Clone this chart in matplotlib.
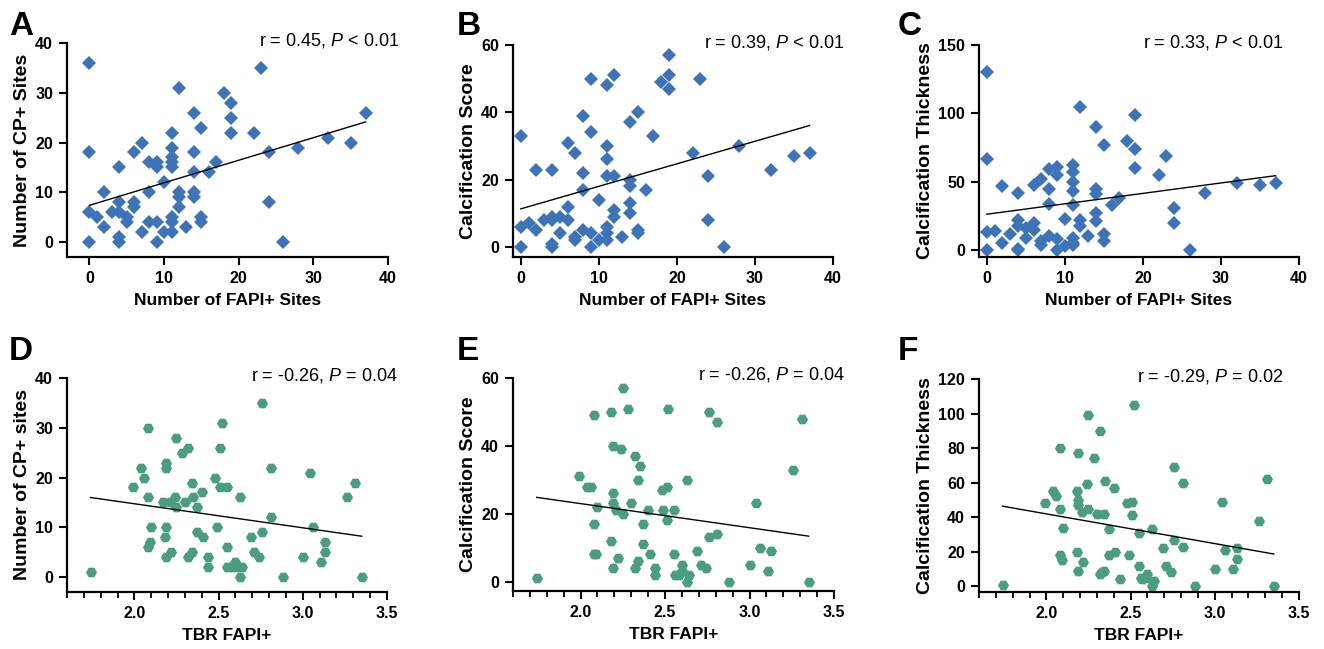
import numpy as np
import matplotlib
matplotlib.use('Agg')
import matplotlib.pyplot as plt
from matplotlib.ticker import MultipleLocator

plt.rcParams['font.family'] = ['Liberation Sans', 'DejaVu Sans']
plt.rcParams['mathtext.fontset'] = 'custom'
plt.rcParams['mathtext.rm'] = 'Liberation Sans'
plt.rcParams['mathtext.it'] = 'Liberation Sans:italic'

# ---- data ----
# top row: Number of FAPI+ sites vs CP+ sites / calcification score / thickness
fapi_a = [0, 23, 12, 18, 19, 14, 37, 19, 15, 11, 19, 22, 0, 7, 6, 11, 32, 35, 28, 24,
          14, 11, 11, 11, 8, 9, 9, 4, 17, 16, 14, 10, 2, 8, 12, 12, 14, 14, 4, 6,
          6, 12, 24, 0, 1, 3, 4, 5, 5, 2, 8, 9, 11, 11, 15, 15, 13, 7, 10, 11,
          4, 4, 0, 9, 26]
cp_a = [36, 35, 31, 30, 28, 26, 26, 25, 23, 22, 22, 22, 18, 20, 18, 19, 21, 20, 19, 18,
        18, 17, 16, 15, 16, 16, 15, 15, 16, 14, 14, 12, 10, 10, 10, 9, 10, 9, 8, 8,
        7, 7, 8, 6, 5, 6, 6, 5, 4, 3, 4, 4, 5, 4, 5, 4, 3, 2, 2, 2,
        1, 0, 0, 0, 0]

fapi_b = [19, 9, 12, 11, 18, 19, 19, 23, 8, 15, 14, 0, 9, 17, 6, 11, 7, 22, 28, 35,
          37, 11, 2, 4, 8, 11, 12, 32, 24, 14, 14, 8, 16, 10, 14, 6, 12, 14, 12, 0,
          1, 2, 3, 4, 4, 5, 6, 24, 5, 7, 7, 8, 9, 10, 11, 11, 11, 13, 15, 15,
          0, 4, 4, 9, 26]
score_b = [57, 50, 51, 48, 49, 51, 47, 50, 39, 40, 37, 33, 34, 33, 31, 30, 28, 28, 30, 27,
           28, 26, 23, 23, 22, 21, 21, 23, 21, 20, 18, 17, 17, 14, 13, 12, 11, 10, 9, 6,
           7, 5, 8, 9, 8, 9, 8, 8, 4, 3, 2, 5, 4, 2, 6, 4, 2, 3, 5, 4,
           0, 1, 0, 0, 0]

fapi_c = [0, 0, 0, 0, 1, 2, 2, 3, 4, 4, 4, 4, 4, 5, 5, 6, 6, 6, 7, 7,
          7, 8, 8, 8, 8, 9, 9, 9, 9, 10, 10, 11, 11, 11, 11, 11, 11, 11, 11, 12,
          12, 12, 13, 14, 14, 14, 14, 14, 15, 15, 15, 16, 17, 18, 19, 19, 19, 22, 23, 24,
          24, 26, 28, 32, 35, 37]
thick_c = [130, 67, 13, 0, 14, 47, 5, 12, 42, 22, 18, 1, 0, 16, 9, 48, 20, 15, 52, 7,
           4, 59, 45, 34, 10, 61, 55, 8, 0, 23, 3, 62, 57, 50, 43, 33, 9, 5, 4, 105,
           22, 18, 10, 90, 45, 41, 27, 21, 77, 12, 7, 33, 38, 80, 99, 74, 60, 55, 69, 31,
           20, 0, 42, 49, 48, 49]

# bottom row: TBR FAPI+ vs the same three measures
tbr_d = [1.74, 2.08, 2.76, 2.52, 2.25, 2.32, 2.28, 2.51, 2.19, 2.19, 2.04, 2.06, 2.81, 3.04, 1.99, 2.34,
         2.48, 2.51, 2.55, 2.40, 2.08, 2.24, 2.35, 2.63, 3.26, 3.31, 2.17, 2.21, 2.30, 2.25, 2.37, 2.81,
         2.10, 2.19, 2.49, 3.06, 2.37, 2.76, 2.18, 2.41, 2.69, 2.09, 3.13, 2.08, 2.55, 2.22, 2.34, 2.71,
         3.13, 2.19, 2.32, 2.44, 2.74, 3.00, 3.11, 2.44, 2.55, 2.58, 2.60, 2.61, 2.64, 2.63, 2.88, 3.35]
cp_d = [1, 30, 35, 31, 28, 26, 25, 26, 23, 22, 22, 20, 22, 21, 18, 19,
        20, 18, 18, 17, 16, 16, 16, 16, 16, 19, 15, 15, 15, 14, 14, 12,
        10, 10, 10, 10, 9, 9, 8, 8, 8, 7, 7, 6, 6, 5, 5, 5,
        5, 4, 4, 4, 4, 4, 3, 2, 2, 2, 3, 2, 2, 0, 0, 0]

tbr_e = [1.74, 2.25, 2.08, 2.18, 2.28, 2.52, 2.76, 2.81, 3.31, 2.19, 2.24, 2.32, 2.35, 2.34, 2.63, 3.26,
         1.99, 2.04, 2.06, 2.48, 2.51, 2.19, 2.19, 2.30, 3.04, 2.10, 2.21, 2.25, 2.40, 2.49, 2.55, 2.51,
         2.37, 2.08, 2.18, 2.37, 2.76, 2.81, 2.08, 2.09, 2.41, 2.55, 2.69, 3.06, 3.13, 2.22, 2.34, 2.19,
         2.32, 2.44, 2.44, 2.60, 2.71, 2.74, 3.00, 3.11, 2.56, 2.58, 2.60, 2.64, 2.63, 2.88, 3.35]
score_e = [1, 57, 49, 50, 51, 51, 50, 47, 48, 40, 39, 37, 34, 30, 30, 33,
           31, 28, 28, 27, 28, 26, 23, 23, 23, 22, 21, 20, 21, 21, 21, 18,
           17, 17, 12, 11, 13, 14, 8, 8, 8, 8, 9, 10, 9, 7, 6, 4,
           4, 4, 2, 5, 5, 4, 5, 3, 2, 2, 3, 2, 0, 0, 0]

tbr_f = [1.74, 2.52, 2.25, 2.32, 2.08, 2.19, 2.28, 2.76, 2.81, 3.31, 2.35, 2.40, 2.24, 2.04, 2.06, 2.18,
         2.19, 2.19, 1.99, 2.08, 2.25, 2.21, 2.30, 2.34, 2.48, 2.51, 2.51, 3.04, 3.26, 2.10, 2.37, 2.63,
         2.55, 2.76, 2.81, 2.69, 3.13, 3.06, 2.18, 2.41, 2.37, 2.49, 2.08, 2.09, 3.13, 2.22, 2.55, 2.71,
         2.19, 2.74, 3.00, 3.11, 2.34, 2.33, 2.32, 2.44, 2.56, 2.57, 2.60, 2.59, 2.64, 2.63, 2.88, 3.35]
thick_f = [1, 105, 99, 90, 80, 77, 74, 69, 60, 62, 61, 57, 59, 55, 52, 55,
           50, 47, 48, 45, 45, 43, 42, 42, 48, 49, 41, 49, 38, 34, 33, 33,
           31, 27, 23, 22, 22, 21, 20, 20, 18, 18, 18, 15, 16, 14, 12, 12,
           9, 8, 10, 10, 9, 8, 7, 4, 5, 4, 7, 5, 3, 0, 0, 0]

stats = ['r = 0.45, $\\it{P}$ < 0.01', 'r = 0.39, $\\it{P}$ < 0.01', 'r = 0.33, $\\it{P}$ < 0.01',
         'r = -0.26, $\\it{P}$ = 0.04', 'r = -0.26, $\\it{P}$ = 0.04', 'r = -0.29, $\\it{P}$ = 0.02']
letters = ['A', 'B', 'C', 'D', 'E', 'F']
ylabels = ['Number of CP+ Sites', 'Calcification Score', 'Calcification Thickness',
           'Number of CP+ sites', 'Calcification Score', 'Calcification Thickness']

blue = '#3F73B8'
green = '#4B9E7D'

W, H = 1324, 649
fig = plt.figure(figsize=(W / 100, H / 100), dpi=100)


def px_axes(l, t, r, b):
    return fig.add_axes([l / W, 1 - b / H, (r - l) / W, (b - t) / H])


panels = [
    # x, y, box (px), xlim, ylim, yticks step, colour, marker
    (fapi_a, cp_a, (67, 43, 388, 257), (-3, 40), (-3, 40), 10, blue, 'D'),
    (fapi_b, score_b, (513, 45, 833, 257), (-1, 40), (-3, 60), 20, blue, 'D'),
    (fapi_c, thick_c, (979, 45, 1299, 257), (-1, 40), (-5, 150), 50, blue, 'D'),
    (tbr_d, cp_d, (67, 378, 387, 592), (1.6, 3.5), (-3, 40), 10, green, 'H'),
    (tbr_e, score_e, (513, 378, 834, 591), (1.6, 3.5), (-2.8, 60), 20, green, 'H'),
    (tbr_f, thick_f, (979, 379, 1299, 592), (1.6, 3.5), (-3.3, 120), 20, green, 'H'),
]

for i, (x, y, box, xl, yl, ystep, col, mk) in enumerate(panels):
    ax = px_axes(*box)
    x = np.array(x, dtype=float)
    y = np.array(y, dtype=float)
    ax.plot(x, y, linestyle='none', marker=mk, color=col,
            markersize=7 if mk == 'D' else 8, markeredgewidth=0)
    k, c = np.polyfit(x, y, 1)
    xs = np.array([x.min(), x.max()])
    ax.plot(xs, k * xs + c, color='black', linewidth=1.0)

    ax.set_xlim(*xl)
    ax.set_ylim(*yl)
    if i < 3:
        ax.xaxis.set_major_locator(MultipleLocator(10))
        ax.set_xlabel('Number of FAPI+ Sites', fontsize=12.5, fontweight='bold', labelpad=5)
    else:
        ax.set_xticks([2.0, 2.5, 3.0, 3.5])
        ax.set_xticklabels(['2.0', '2.5', '3.0', '3.5'])
        ax.xaxis.set_minor_locator(MultipleLocator(0.1))
        ax.set_xlabel('TBR FAPI+', fontsize=12.5, fontweight='bold', labelpad=5)
    ax.set_yticks(np.arange(0, yl[1] + 1, ystep))
    ax.set_ylabel(ylabels[i], fontsize=14, fontweight='bold', labelpad=3)

    for s in ['top', 'right']:
        ax.spines[s].set_visible(False)
    for s in ['left', 'bottom']:
        ax.spines[s].set_linewidth(1.6)
    ax.tick_params(which='major', length=6, width=1.5, labelsize=11.5, pad=4)
    ax.tick_params(which='minor', length=4, width=1.3)
    for lab in ax.get_xticklabels() + ax.get_yticklabels():
        lab.set_fontweight('bold')

    xr = box[2] + (11 if i % 3 != 2 else -16)
    ax.text((xr - box[0]) / (box[2] - box[0]), 1.0 - 2.0 / (box[3] - box[1]), stats[i],
            transform=ax.transAxes, ha='right', va='baseline', fontsize=13)

letter_x = [9, 457, 898]
for i, L in enumerate(letters):
    lx = letter_x[i % 3]
    ly = 35 if i < 3 else 360
    fig.text(lx / W, 1 - ly / H, L, fontsize=24, fontweight='bold', va='baseline')

fig.savefig('out.png', dpi=100)
